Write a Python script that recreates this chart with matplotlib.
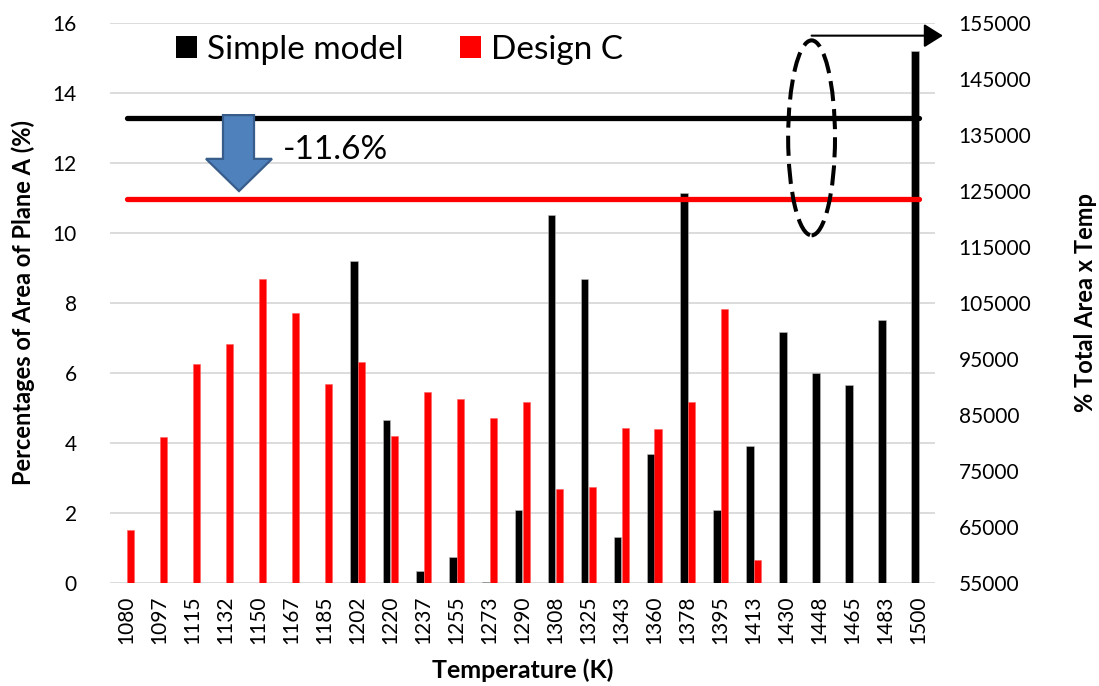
import matplotlib
matplotlib.use("Agg")
import matplotlib.pyplot as plt
import numpy as np
from matplotlib.patches import Polygon, Ellipse, Patch

plt.rcParams['font.family'] = ['Lato', 'DejaVu Sans']

# Temperature bins (K)
temps = [1080, 1097, 1115, 1132, 1150, 1167, 1185, 1202, 1220, 1237, 1255, 1273, 1290,
         1308, 1325, 1343, 1360, 1378, 1395, 1413, 1430, 1448, 1465, 1483, 1500]

# Percentage of plane A area in each temperature bin
simple_model = [0, 0, 0, 0, 0, 0, 0, 9.19, 4.65, 0.33, 0.73, 0.02, 2.09,
                10.50, 8.68, 1.31, 3.67, 11.14, 2.08, 3.91, 7.15, 5.99, 5.64, 7.51, 15.2]
design_c = [1.50, 4.15, 6.24, 6.82, 8.69, 7.70, 5.68, 6.30, 4.19, 5.44, 5.25, 4.70, 5.15,
            2.67, 2.73, 4.41, 4.39, 5.16, 7.81, 0.64, 0, 0, 0, 0, 0]

# Area-weighted temperature sums (% total area x temp)
simple_total = 137900
design_total = 123450
change_label = "-11.6%"

W, H = 1099, 686
fig = plt.figure(figsize=(W / 100, H / 100), dpi=100)
ax = fig.add_axes([110 / W, 1 - 582.7 / H, 825 / W, 560 / H])

x = np.arange(len(temps))
bw = 0.242
ax.bar(x - bw / 2, simple_model, bw, color='black', edgecolor='#bfbfbf', linewidth=0.4, zorder=3)
ax.bar(x + bw / 2, design_c, bw, color='#ff0000', edgecolor='#ff6060', linewidth=0.4, zorder=3)

ax.set_xlim(-0.5, len(temps) - 0.5)
ax.set_ylim(0, 16)
ax.set_yticks(range(0, 17, 2))
ax.yaxis.grid(True, color='#d9d9d9', linewidth=1.3)
ax.set_axisbelow(True)
for s in ax.spines.values():
    s.set_visible(False)
ax.set_xticks(x, [str(t) for t in temps], rotation=90)
ax.tick_params(axis='both', length=0, labelsize=15)
ax.tick_params(axis='y', pad=24)
ax.tick_params(axis='x', pad=9)

ax.set_ylabel("Percentages of Area of Plane A (%)", fontsize=17, fontweight='bold')
ax.yaxis.set_label_coords(-0.091, 0.5)
ax.set_xlabel("Temperature (K)", fontsize=18, fontweight='bold')
ax.xaxis.set_label_coords(0.5, -0.135)

ax2 = ax.twinx()
ax2.set_ylim(55000, 155000)
ax2.set_yticks(range(55000, 155001, 10000))
for s in ax2.spines.values():
    s.set_visible(False)
ax2.tick_params(axis='y', length=0, labelsize=15, pad=17)
ax2.plot(x, [simple_total] * len(x), color='black', linewidth=3.8, solid_capstyle='round', zorder=2)
ax2.plot(x, [design_total] * len(x), color='#ff0000', linewidth=3.8, solid_capstyle='round', zorder=2)
ax2.set_ylabel("% Total Area x Temp", fontsize=17, fontweight='bold')
ax2.yaxis.set_label_coords(1.168, 0.5)

# Downward block arrow marking the reduction
arrow_pts = [(2.924, 13.36), (3.864, 13.36), (3.864, 12.11), (4.409, 12.11),
             (3.409, 11.19), (2.409, 12.11), (2.924, 12.11)]
ax3 = fig.add_axes(ax.get_position(), sharex=ax, sharey=ax, frameon=False)
ax3.axis('off')
ax3.add_patch(Polygon(arrow_pts, closed=True, facecolor='#4f81bd', edgecolor='#385d8a',
                      linewidth=1.6, zorder=5))
ax3.text(4.74, 12.36, change_label, fontsize=24, ha='left', va='center')

# Dashed ellipse and pointer toward the secondary axis
ax3.add_patch(Ellipse((20.76, 12.71), 1.42, 5.57, fill=False, edgecolor='black',
                      linewidth=2.9, linestyle=(0, (5, 2)), clip_on=False, zorder=6))
ax3.annotate('', xy=(24.74, 15.63), xytext=(20.76, 15.63),
             arrowprops=dict(arrowstyle='-|>,head_length=0.4,head_width=0.25',
                             color='black', lw=1.5, mutation_scale=29,
                             shrinkA=0, shrinkB=0),
             annotation_clip=False)

handles = [Patch(facecolor='black'), Patch(facecolor='#ff0000')]
fig.legend(handles, ["Simple model", "Design C"], loc='center left',
           bbox_to_anchor=(176 / W, 1 - 50 / H), ncol=2, frameon=False, fontsize=24,
           handlelength=0.63, handleheight=0.63, handletextpad=0.3, columnspacing=1.7,
           borderpad=0, borderaxespad=0)

fig.savefig("out.png", dpi=100)
